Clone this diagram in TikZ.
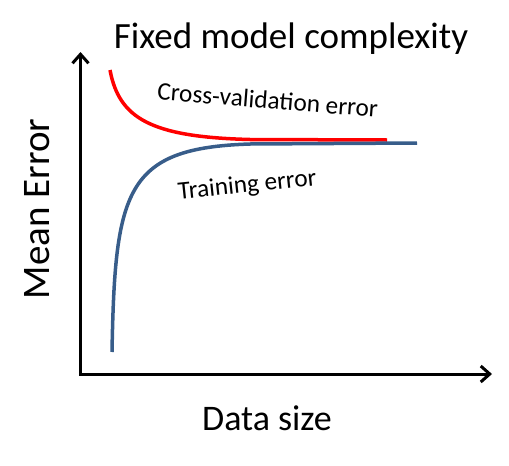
\documentclass[tikz,border=0pt]{standalone}
\usepackage{fontspec}
\setmainfont{Carlito}
\usepackage{xcolor}
\usetikzlibrary{arrows.meta}
\definecolor{trainblue}{RGB}{56,93,138}

\begin{document}
\begin{tikzpicture}[x=1pt, y=-1pt,
    axis/.style={line width=3pt, {Straight Barb[length=9pt, width=16pt]}-{Straight Barb[length=9pt, width=16pt]}},
    curve/.style={line width=3.5pt},
    big/.style={anchor=base, font=\fontsize{37}{44}\selectfont},
    lbl/.style={anchor=base, font=\fontsize{25.3}{30}\selectfont}
]
    \useasboundingbox (0,0) rectangle (509,466);
    \coordinate (O) at (80.5,374);
    \coordinate (ytop) at (80.5,52);
    \coordinate (xend) at (492,374);
    \draw[axis] (ytop) -- (O) -- (xend);
    % curves
    \draw[curve, red] (110,70) .. controls (119,118) and (150,137) .. (250,139.5) -- (387,140);
    \draw[curve, trainblue] (112,352) .. controls (115,190) and (125,148) .. (250,144) -- (417,143);
    % texts
    \node[big] (title) at (291,48) {Fixed model complexity};
    \node[big, rotate=90, font=\fontsize{39}{46}\selectfont] (ylbl) at (49,209) {Mean Error};
    \node[big, font=\fontsize{36}{43}\selectfont] (xlbl) at (267,430) {Data size};
    \node[lbl, rotate=-4.5] (cv) at (267,108.5) {Cross-validation error};
    \node[lbl, rotate=6] (tr) at (248,192.5) {Training error};
\end{tikzpicture}
\end{document}
